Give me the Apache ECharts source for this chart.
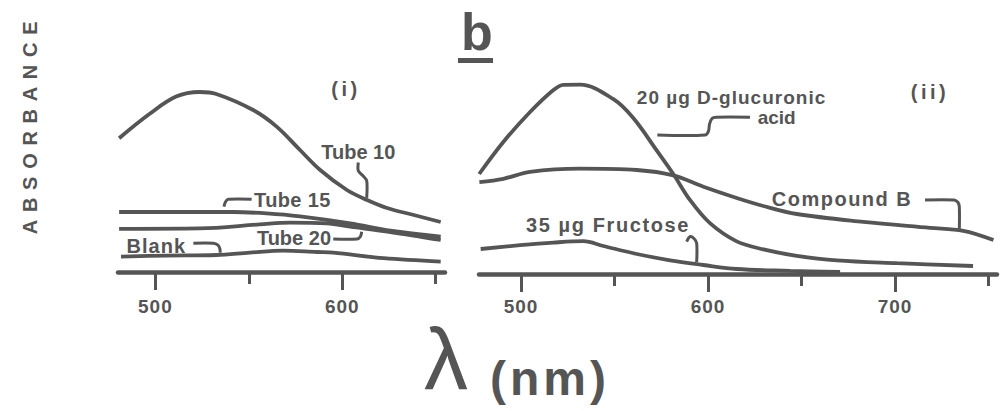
<!DOCTYPE html>
<html><head><meta charset="utf-8">
<script src="https://cdn.jsdelivr.net/npm/echarts@6/dist/echarts.min.js"></script>
<style>html,body{margin:0;padding:0;background:#fff}#chart{width:1000px;height:411px}</style>
</head><body><div id="chart"></div>
<script>
const INK = '#555';
const FONT = '"Liberation Sans", Arial, Helvetica, sans-serif';

// ---- Panel (i) : wavelength (nm) and absorbance (arbitrary units) ----
const tube10Nm  = [480.6, 496.8, 511.1, 523.7, 532.6, 552.3, 564.9, 577.4, 588.2, 602.5, 613.3, 624.0, 638.3, 652.7];
const tube10Abs = [0.669, 0.790, 0.877, 0.900, 0.890, 0.810, 0.727, 0.610, 0.510, 0.410, 0.360, 0.320, 0.285, 0.250];
const tube15Nm  = [480.6, 505.8, 541.6, 559.5, 577.4, 604.3, 625.8, 652.7];
const tube15Abs = [0.300, 0.300, 0.300, 0.293, 0.278, 0.243, 0.207, 0.177];
const tube20Nm  = [480.6, 523.7, 555.9, 572.0, 591.8, 604.3, 625.8, 652.7];
const tube20Abs = [0.216, 0.218, 0.238, 0.247, 0.243, 0.227, 0.200, 0.160];
const blankNm   = [481.6, 505.8, 532.6, 550.5, 568.4, 586.4, 595.3, 622.2, 652.7];
const blankAbs  = [0.077, 0.082, 0.085, 0.097, 0.107, 0.100, 0.097, 0.069, 0.052];

// ---- Panel (ii) ----
const glucNm  = [477.6, 490.5, 504.8, 517.3, 522.6, 531.6, 549.4, 560.0, 572.6, 581.4, 590.4, 601.0, 615.3, 629.6, 647.4, 668.8, 700.9, 741.7];
const glucAbs = [0.500, 0.660, 0.810, 0.920, 0.946, 0.947, 0.874, 0.780, 0.617, 0.500, 0.369, 0.254, 0.163, 0.123, 0.091, 0.068, 0.054, 0.040];
const compBNm  = [477.7, 490.5, 504.8, 531.6, 561.9, 581.4, 597.5, 615.3, 629.6, 647.4, 683.0, 718.7, 736.5, 752.6];
const compBAbs = [0.459, 0.476, 0.511, 0.527, 0.520, 0.493, 0.436, 0.380, 0.340, 0.300, 0.261, 0.231, 0.216, 0.170];
const fructNm  = [478.4, 499.5, 517.3, 533.3, 544.0, 561.9, 579.7, 597.5, 615.3, 643.9, 670.6];
const fructAbs = [0.125, 0.144, 0.157, 0.164, 0.140, 0.100, 0.068, 0.045, 0.025, 0.016, 0.010];

// ---- ticks ----
const leftMajorTicks  = [500, 600];
const leftMinorTicks  = [550, 650];
const rightMajorTicks = [500, 600, 700];
const rightMinorTicks = [550, 650, 750];

const pairs = (xs, ys) => xs.map((x, i) => [x, ys[i]]);
const seriesDefs = [
  {name: 'Tube 10', nm: tube10Nm, abs: tube10Abs, panel: 0},
  {name: 'Tube 15', nm: tube15Nm, abs: tube15Abs, panel: 0},
  {name: 'Tube 20', nm: tube20Nm, abs: tube20Abs, panel: 0},
  {name: 'Blank', nm: blankNm, abs: blankAbs, panel: 0},
  {name: '20 µg D-glucuronic acid', nm: glucNm, abs: glucAbs, panel: 1},
  {name: 'Compound B', nm: compBNm, abs: compBAbs, panel: 1},
  {name: '35 µg Fructose', nm: fructNm, abs: fructAbs, panel: 1}
];

const chart = echarts.init(document.getElementById('chart'), null, {renderer: 'svg'});

const labelStyle = {color: INK, fontFamily: FONT, fontWeight: 'bold', fontSize: 19};
function majorAxis(grid, min, max, ticks, margin) {
  return {
    type: 'value', gridIndex: grid, min: min, max: max, position: 'bottom',
    axisLine: {show: true, lineStyle: {color: INK, width: 4.5}},
    axisTick: {show: true, customValues: ticks, length: 18, lineStyle: {color: INK, width: 3}},
    axisLabel: Object.assign({show: true, customValues: ticks, margin: margin}, labelStyle),
    splitLine: {show: false}
  };
}
function minorAxis(grid, min, max, ticks) {
  return {
    type: 'value', gridIndex: grid, min: min, max: max, position: 'bottom',
    axisLine: {show: false},
    axisTick: {show: true, customValues: ticks, length: 12, lineStyle: {color: INK, width: 3}},
    axisLabel: {show: false},
    splitLine: {show: false}
  };
}

chart.setOption({
  animation: false,
  backgroundColor: '#fff',
  grid: [
    {left: 118, width: 327, top: 72, height: 200},
    {left: 479, width: 518, top: 74, height: 200}
  ],
  xAxis: [
    majorAxis(0, 480, 655, leftMajorTicks, 25),
    minorAxis(0, 480, 655, leftMinorTicks),
    majorAxis(1, 477.5, 754.5, rightMajorTicks, 23),
    minorAxis(1, 477.5, 754.5, rightMinorTicks)
  ],
  yAxis: [
    {type: 'value', gridIndex: 0, min: 0, max: 1, show: false},
    {type: 'value', gridIndex: 1, min: 0, max: 1, show: false}
  ],
  series: seriesDefs.map(d => ({
    type: 'line', name: d.name,
    xAxisIndex: d.panel === 0 ? 0 : 2, yAxisIndex: d.panel,
    data: pairs(d.nm, d.abs),
    smooth: 0.35, showSymbol: false, silent: true,
    lineStyle: {color: INK, width: 3.8}
  }))
});

function interp(xs, ys, x) {
  for (let i = 0; i < xs.length - 1; i++) {
    if (x >= xs[i] && x <= xs[i + 1]) {
      const t = (x - xs[i]) / (xs[i + 1] - xs[i]);
      return ys[i] + t * (ys[i + 1] - ys[i]);
    }
  }
  return x < xs[0] ? ys[0] : ys[ys.length - 1];
}

// annotations anchored on the curves (offsets in px from anchor)
const notes = [
  {s: 0, nm: 613.1, size: 20, texts: [['Tube 10', -8.4, -48.2]], path: [[-8.4,-37.3],[-8.4,-29],[-3.7,-24],[0,-19],[0,-2]]},
  {s: 1, nm: 536.7, size: 20, texts: [['Tube 15', 68.5, -12]], path: [[0,-5.3],[1.5,-10],[4.3,-12.7],[27.7,-12.7]]},
  {s: 2, nm: 610.4, size: 20, texts: [['Tube 20', -67.7, 9.4]], path: [[0,3.6],[-1.2,8.4],[-4.7,10.9],[-28.4,10.9]]},
  {s: 3, nm: 534.6, size: 20, texts: [['Blank', -63.7, -8.9]], path: [[0,-2],[0,-5.4],[-2,-9.5],[-6.7,-11.4],[-26.7,-11.4]]},
  {s: 4, nm: 566.6, size: 19, texts: [['20 µg D-glucuronic', 85.9, -37.8], ['acid', 131.1, -17.6]],
     path: [[11.7,0],[59.4,0],[62.9,-4],[63.9,-11],[66.4,-16.6],[70.4,-17.8],[104.4,-17.8]]},
  {s: 5, nm: 734.3, size: 20, texts: [['Compound B', -117.2, -31.2]], path: [[-34.2,-30.4],[-5.2,-30.4],[-1.2,-27.9],[0.1,-23.4],[0.1,-1.4]]},
  {s: 6, nm: 593.9, size: 20, texts: [['35 µg Fructose', -88.7, -38.6]], path: [[-10,-22.4],[-6.7,-27.4],[-2.7,-25.6],[0,-20.8],[0,-2.1]]}
];

function txt(text, x, y, size, opts) {
  opts = opts || {};
  const w = opts.weight || 'bold';
  return {
    type: 'text', x: x, y: y, rotation: opts.rotation || 0, silent: true,
    style: {
      text: text, x: 0, y: 0, fill: opts.fill || INK,
      font: w + ' ' + size + 'px ' + FONT,
      textAlign: opts.align || 'center', textVerticalAlign: 'middle',
      align: opts.align || 'center', verticalAlign: 'middle'
    }
  };
}

const graphics = [];
notes.forEach(n => {
  const d = seriesDefs[n.s];
  const v = interp(d.nm, d.abs, n.nm);
  const p = chart.convertToPixel({seriesIndex: n.s}, [n.nm, v]);
  graphics.push({
    type: 'polyline', silent: true,
    shape: {points: n.path.map(o => [p[0] + o[0], p[1] + o[1]]), smooth: 0.3},
    style: {stroke: INK, lineWidth: 3, fill: null}
  });
  n.texts.forEach(t => graphics.push(txt(t[0], p[0] + t[1], p[1] + t[2], n.size)));
});

graphics.push(txt('(i)', 346, 89, 20));
graphics.push(txt('(ii)', 930, 91.5, 20));
graphics.push(txt('b', 461, 32, 52, {align: 'left'}));
graphics.push({type: 'rect', silent: true, shape: {x: 458, y: 58, width: 35, height: 5}, style: {fill: INK}});
graphics.push(txt('ABSORBANCE', 30, 124, 20, {rotation: Math.PI / 2}));
graphics.push(txt('λ', 424, 358, 88, {align: 'left', weight: 'normal'}));
graphics.push(txt('(nm)', 490, 378, 48, {align: 'left'}));

chart.setOption({graphic: graphics});

const SPACING = {
  'ABSORBANCE': 7.7, '(nm)': 4, 'Compound B': 1.5, '35 µg Fructose': 1.6,
  '20 µg D-glucuronic': 1, 'Blank': 1, 'Tube 15': 0.4, '(i)': 3.5, '(ii)': 3.5,
  '500': 1, '600': 1, '700': 1
};
function applySpacing() {
  document.querySelectorAll('#chart text').forEach(t => {
    const s = (t.textContent || '').trim();
    if (SPACING[s] != null) t.setAttribute('letter-spacing', SPACING[s]);
  });
}
applySpacing();
chart.on('finished', applySpacing);
</script></body></html>
